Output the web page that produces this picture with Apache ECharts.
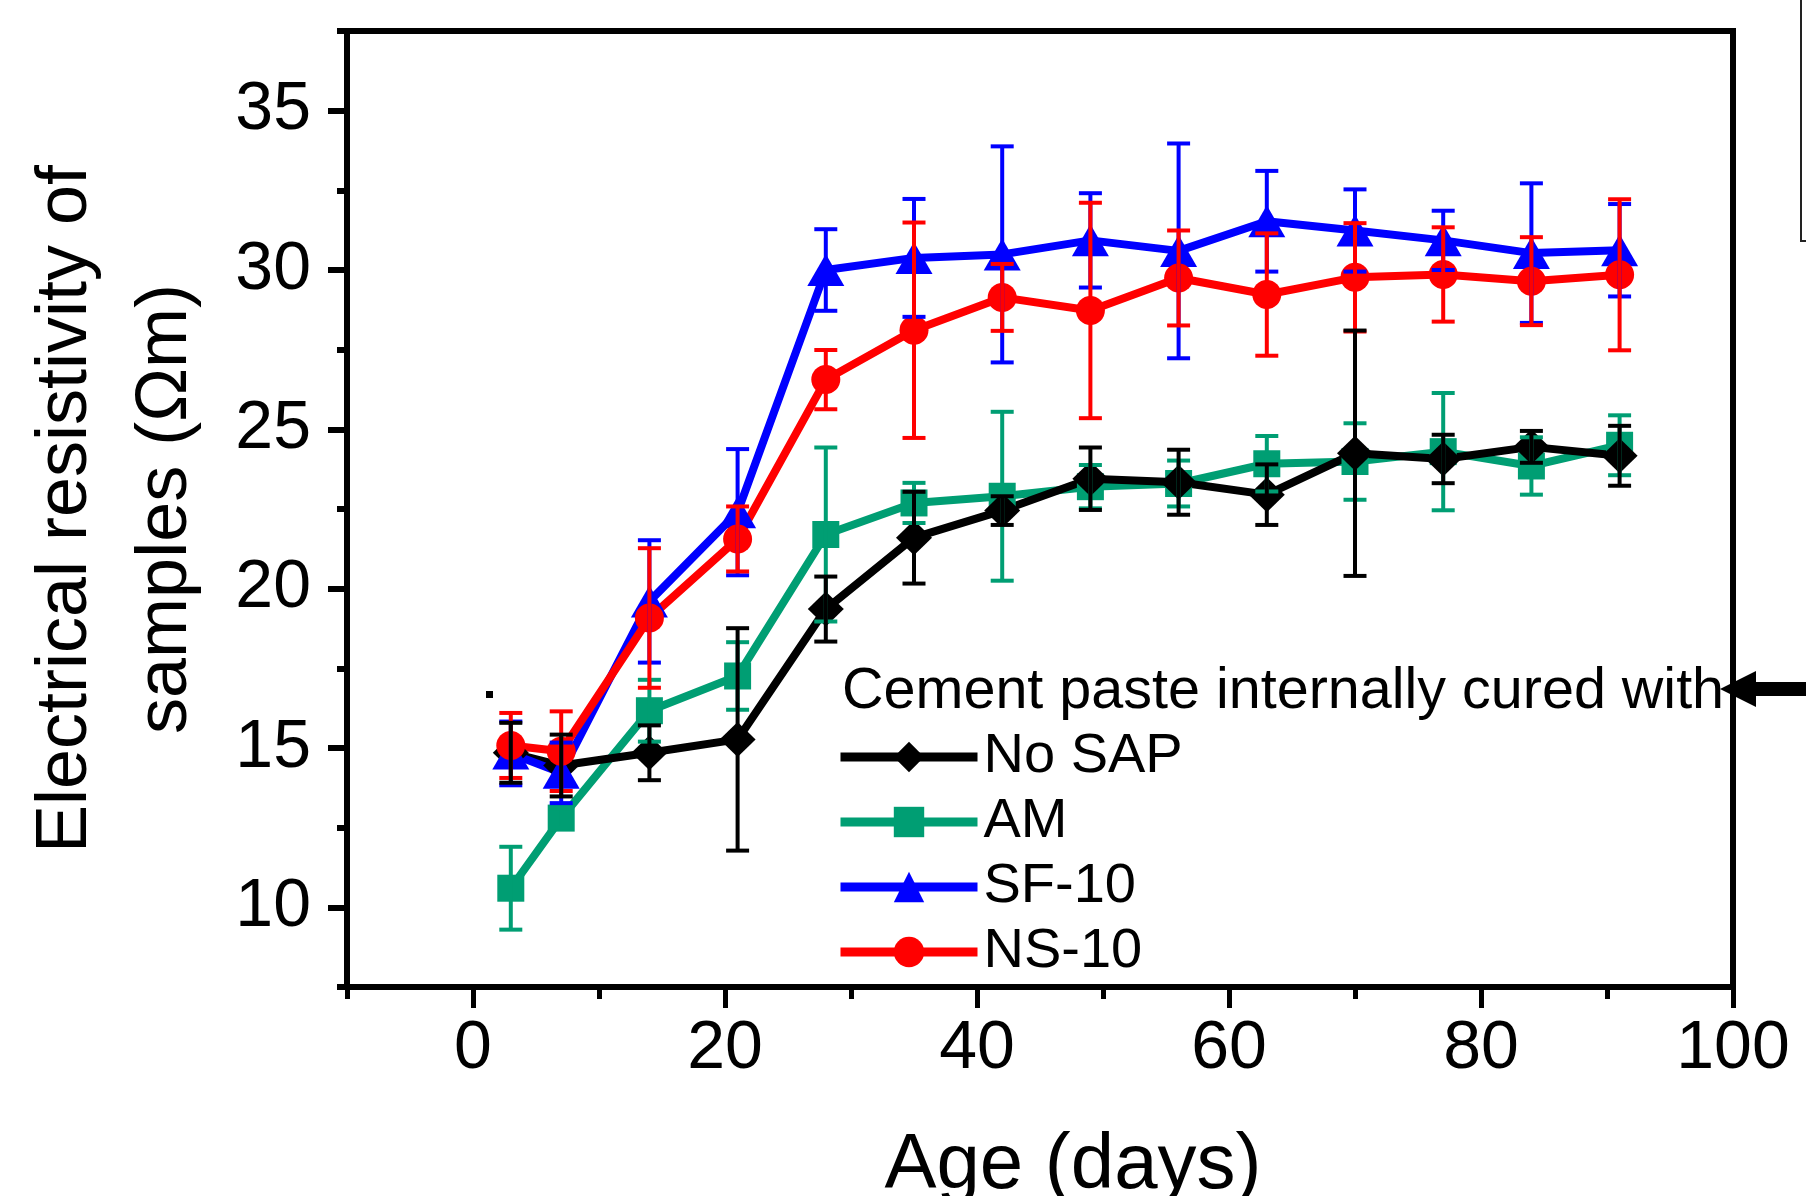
<!DOCTYPE html>
<html>
<head>
<meta charset="utf-8">
<script src="https://cdn.jsdelivr.net/npm/echarts@6/dist/echarts.min.js"></script>
<style>
  html, body { margin: 0; padding: 0; background: #ffffff; }
  #chart { width: 1806px; height: 1196px; }
</style>
</head>
<body>
<div id="chart"></div>
<script>
// ---- data ----
const days = [3, 7, 14, 21, 28, 35, 42, 49, 56, 63, 70, 77, 84, 91];

const noSapMean = [14.85, 14.45, 14.85, 15.27, 19.36, 21.6, 22.45, 23.45, 23.34, 22.95, 24.25, 24.07, 24.45, 24.17];
const noSapErr  = [0.94, 0.97, 0.86, 3.49, 1.02, 1.44, 0.45, 0.98, 1.02, 0.95, 3.85, 0.76, 0.5, 0.94];

const amMean = [10.6, 12.8, 16.17, 17.26, 21.7, 22.69, 22.9, 23.2, 23.3, 23.92, 23.99, 24.3, 23.85, 24.5];
const amErr  = [1.3, 0.3, 0.97, 1.06, 2.73, 0.63, 2.65, 0.68, 0.72, 0.87, 1.2, 1.84, 0.9, 0.94];

const sfMean = [14.83, 14.22, 19.6, 22.4, 30.0, 30.38, 30.49, 30.93, 30.6, 31.53, 31.24, 30.93, 30.53, 30.62];
const sfErr  = [1.0, 0.95, 1.92, 1.98, 1.28, 1.85, 3.39, 1.48, 3.37, 1.58, 1.29, 0.93, 2.19, 1.45];

const nsMean = [15.08, 14.9, 19.08, 21.56, 26.56, 28.11, 29.14, 28.73, 29.75, 29.23, 29.77, 29.86, 29.65, 29.85];
const nsErr  = [1.02, 1.25, 2.19, 1.02, 0.93, 3.38, 1.05, 3.38, 1.49, 1.92, 1.7, 1.48, 1.38, 2.37];

const seriesNames = ['No SAP', 'AM', 'SF-10', 'NS-10'];
const legendTitle = 'Cement paste internally cured with';
const xTitle = 'Age (days)';
const yTitle = 'Electrical resistivity of\nsamples (\u03A9m)';

const xLabelValues = [0, 20, 40, 60, 80, 100];
const yLabelValues = [10, 15, 20, 25, 30, 35];

// ---- styling ----
const FONT = '"Liberation Sans", Arial, Helvetica, sans-serif';
const COLORS = { 'No SAP': '#000000', 'AM': '#009E73', 'SF-10': '#0000FF', 'NS-10': '#FF0000' };

function pairs(xs, ys) { return xs.map((x, i) => [x, ys[i]]); }
function errData(xs, m, e) { return xs.map((x, i) => [x, m[i] - e[i], m[i] + e[i]]); }

function errRender(color) {
  return function (params, api) {
    const x = api.value(0), lo = api.value(1), hi = api.value(2);
    const pLo = api.coord([x, lo]);
    const pHi = api.coord([x, hi]);
    const hw = 11.5;
    const st = { stroke: color, lineWidth: 4, fill: null };
    return {
      type: 'group',
      children: [
        { type: 'line', shape: { x1: pLo[0], y1: pLo[1], x2: pHi[0], y2: pHi[1] }, style: st },
        { type: 'line', shape: { x1: pLo[0] - hw, y1: pLo[1], x2: pLo[0] + hw, y2: pLo[1] }, style: st },
        { type: 'line', shape: { x1: pHi[0] - hw, y1: pHi[1], x2: pHi[0] + hw, y2: pHi[1] }, style: st }
      ]
    };
  };
}

function lineSeries(name, data, symbol, size) {
  return {
    name: name,
    type: 'line',
    data: data,
    symbol: symbol,
    symbolSize: size,
    showAllSymbol: true,
    lineStyle: { color: COLORS[name], width: 8 },
    itemStyle: { color: COLORS[name], borderWidth: 0 },
    emphasis: { disabled: true },
    z: 2
  };
}

function errSeries(name, data) {
  return {
    name: name + ' error',
    type: 'custom',
    data: data,
    renderItem: errRender(COLORS[name]),
    encode: { x: 0, y: [1, 2] },
    z: 3,
    silent: true
  };
}

const chart = echarts.init(document.getElementById('chart'), null, { renderer: 'canvas' });

const axisLineStyle = { color: '#000', width: 6 };

const option = {
  animation: false,
  backgroundColor: '#ffffff',
  textStyle: { fontFamily: FONT, color: '#000' },
  title: {
    text: legendTitle,
    left: 842,
    top: 664,
    padding: 0,
    textStyle: { fontFamily: FONT, fontSize: 57.5, fontWeight: 'normal', color: '#000', lineHeight: 57 }
  },
  legend: {
    orient: 'vertical',
    left: 836,
    top: 729,
    padding: 0,
    itemWidth: 137,
    itemHeight: 38,
    itemGap: 9,
    data: seriesNames,
    lineStyle: { width: 9 },
    textStyle: { fontFamily: FONT, fontSize: 56, color: '#000', lineHeight: 56, padding: [0, 0, 0, 1] },
    selectedMode: false
  },
  grid: {
    left: 347,
    right: 73,
    top: 31,
    bottom: 209,
    show: true,
    borderColor: '#000',
    borderWidth: 6,
    backgroundColor: 'transparent',
    containLabel: false,
    outerBoundsMode: 'none'
  },
  xAxis: [
    {
      type: 'value',
      position: 'bottom',
      min: -10,
      max: 100,
      interval: 10,
      name: xTitle,
      nameLocation: 'middle',
      nameGap: 140,
      nameTextStyle: { fontFamily: FONT, fontSize: 78, color: '#000', padding: [0, 0, 0, 66] },
      axisLine: { show: true, onZero: false, lineStyle: axisLineStyle },
      axisTick: { show: true, inside: false, length: 21, lineStyle: { color: '#000', width: 5 }, customValues: xLabelValues },
      axisLabel: { show: true, margin: 28, fontSize: 68, fontFamily: FONT, color: '#000', customValues: xLabelValues },
      splitLine: { show: false }
    },
    {
      type: 'value',
      position: 'bottom',
      min: -10,
      max: 100,
      interval: 10,
      axisLine: { show: false, onZero: false },
      axisTick: { show: true, inside: false, length: 12, lineStyle: { color: '#000', width: 5 } },
      axisLabel: { show: false },
      splitLine: { show: false }
    }
  ],
  yAxis: [
    {
      type: 'value',
      position: 'left',
      min: 7.5,
      max: 37.5,
      interval: 2.5,
      name: yTitle,
      nameLocation: 'middle',
      nameRotate: 90,
      nameGap: 131,
      nameTextStyle: { fontFamily: FONT, fontSize: 72, color: '#000', lineHeight: 100, align: 'center' },
      axisLine: { show: true, onZero: false, lineStyle: axisLineStyle },
      axisTick: { show: true, inside: false, length: 19, lineStyle: { color: '#000', width: 6 }, customValues: yLabelValues },
      axisLabel: { show: true, margin: 36, fontSize: 68, fontFamily: FONT, color: '#000', customValues: yLabelValues },
      splitLine: { show: false }
    },
    {
      type: 'value',
      position: 'left',
      min: 7.5,
      max: 37.5,
      interval: 2.5,
      axisLine: { show: false, onZero: false },
      axisTick: { show: true, inside: false, length: 10, lineStyle: { color: '#000', width: 6 } },
      axisLabel: { show: false },
      splitLine: { show: false }
    }
  ],
  series: [
    lineSeries('AM', pairs(days, amMean), 'rect', 27),
    lineSeries('No SAP', pairs(days, noSapMean), 'diamond', [36, 35]),
    lineSeries('SF-10', pairs(days, sfMean), 'triangle', [37, 32]),
    lineSeries('NS-10', pairs(days, nsMean), 'circle', 29),
    errSeries('AM', errData(days, amMean, amErr)),
    errSeries('SF-10', errData(days, sfMean, sfErr)),
    errSeries('NS-10', errData(days, nsMean, nsErr)),
    errSeries('No SAP', errData(days, noSapMean, noSapErr))
  ],
  graphic: [
    // arrow pointing at the legend title (from an adjacent panel)
    { type: 'polygon', shape: { points: [[1720, 689], [1756, 671], [1756, 707]] }, style: { fill: '#000' }, z: 10 },
    { type: 'rect', shape: { x: 1750, y: 682, width: 56, height: 14 }, style: { fill: '#000' }, z: 10 },
    // clipped frame of the adjacent panel
    { type: 'polyline', shape: { points: [[1801, 0], [1801, 241], [1806, 241]] }, style: { stroke: '#222', lineWidth: 2, fill: null }, z: 10 },
    // stray dot
    { type: 'rect', shape: { x: 486, y: 691, width: 7, height: 7 }, style: { fill: '#000' }, z: 10 }
  ]
};

chart.setOption(option);
</script>
</body>
</html>
